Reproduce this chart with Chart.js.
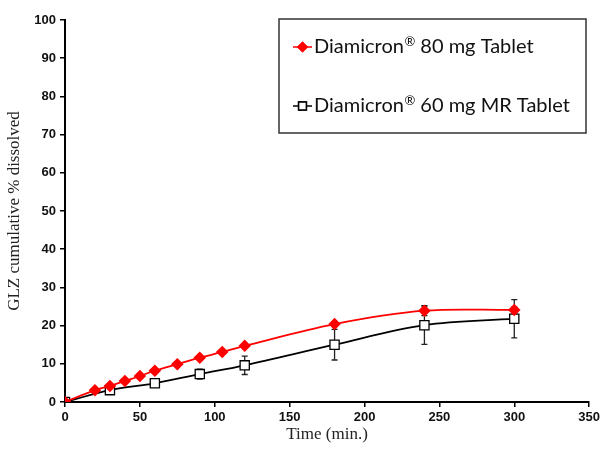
<!DOCTYPE html>
<html>
<head>
<meta charset="utf-8">
<script src="https://cdn.jsdelivr.net/npm/chart.js@4.4.0/dist/chart.umd.min.js"></script>
<style>
  html, body { margin: 0; padding: 0; background: #fff; }
  #wrap { width: 603px; height: 449px; position: relative; }
</style>
</head>
<body>
<div id="wrap"><canvas id="myChart" width="603" height="449"></canvas></div>
<script>
// dissolution data
var time80 = [0, 20, 30, 40, 50, 60, 75, 90, 105, 120, 180, 240, 300];
var diss80 = [0, 3.1, 4.2, 5.5, 6.8, 8.2, 9.9, 11.6, 13.1, 14.7, 20.4, 23.9, 24.1];
var err80  = [0, 0.3, 0.3, 0.3, 0.3, 0.3, 0.3, 0.3, 0.3, 0.4, 0.6, 1.3, 0.8];

var time60 = [0, 30, 60, 90, 120, 180, 240, 300];
var diss60 = [0, 3.1, 4.9, 7.3, 9.6, 15.0, 20.1, 21.8];
var err60  = [0, 0.8, 1.0, 1.3, 2.4, 4.0, 5.0, 5.0];

var xTicks = [0, 50, 100, 150, 200, 250, 300, 350];
var yTicks = [0, 10, 20, 30, 40, 50, 60, 70, 80, 90, 100];

var labels = ["Diamicron\u00AE 80 mg Tablet", "Diamicron\u00AE 60 mg MR Tablet"];

function toPoints(xs, ys) {
  return xs.map(function(x, i) { return { x: x, y: ys[i] }; });
}

// error bars drawn through the chart's own scales
var errorBars = {
  id: "errorBars",
  beforeDatasetsDraw: function(chart) {
    var ctx = chart.ctx;
    var xs = chart.scales.x, ys = chart.scales.y;
    ctx.save();
    ctx.strokeStyle = "#222";
    ctx.lineWidth = 1.3;
    chart.data.datasets.forEach(function(ds) {
      if (!ds.errors) return;
      ds.data.forEach(function(p, i) {
        var e = ds.errors[i];
        if (!e) return;
        var px = xs.getPixelForValue(p.x);
        var top = ys.getPixelForValue(p.y + e);
        var bot = ys.getPixelForValue(p.y - e);
        ctx.beginPath();
        ctx.moveTo(px, top); ctx.lineTo(px, bot);
        ctx.moveTo(px - 3, top); ctx.lineTo(px + 3, top);
        ctx.moveTo(px - 3, bot); ctx.lineTo(px + 3, bot);
        ctx.stroke();
      });
    });
    ctx.restore();
  }
};

// label text with the ® raised as a superscript
function drawLabel(ctx, text, x, y) {
  var parts = text.split("\u00AE");
  ctx.font = "20px Lato";
  ctx.fillText(parts[0], x, y);
  x += ctx.measureText(parts[0]).width + 0.5;
  if (parts.length > 1) {
    ctx.font = "13px Lato";
    ctx.fillText("\u00AE", x, y - 5);
    x += ctx.measureText("\u00AE").width;
    ctx.font = "20px Lato";
    ctx.fillText(parts[1], x, y);
  }
}

// boxed legend in the upper right corner
var boxLegend = {
  id: "boxLegend",
  afterDraw: function(chart) {
    var ctx = chart.ctx;
    var left = 279, top = 19, right = 586, bottom = 133;
    ctx.save();
    ctx.strokeStyle = "#333";
    ctx.lineWidth = 1.5;
    ctx.strokeRect(left, top, right - left, bottom - top);
    var rows = [47, 106];
    chart.data.datasets.forEach(function(ds, i) {
      var y = rows[i];
      ctx.strokeStyle = ds.borderColor;
      ctx.lineWidth = 1.5;
      ctx.beginPath();
      ctx.moveTo(293, y); ctx.lineTo(312, y);
      ctx.stroke();
      Chart.helpers.drawPoint(ctx, {
        pointStyle: ds.pointStyle, radius: ds.legendRadius, borderWidth: 1.3
      }, 302.5, y);
      ctx.fillStyle = ds.pointBackgroundColor;
      ctx.fill();
      ctx.strokeStyle = ds.pointBorderColor;
      ctx.stroke();
      ctx.fillStyle = "#111";
      ctx.textBaseline = "middle";
      drawLabel(ctx, ds.label, 314, y);
    });
    ctx.restore();
  }
};

var ctx = document.getElementById("myChart");

var chart = new Chart(ctx, {
  type: "line",
  data: {
    datasets: [
      {
        label: labels[0],
        data: toPoints(time80, diss80),
        errors: err80,
        borderColor: "#ff0000",
        backgroundColor: "#ff0000",
        pointBackgroundColor: "#ff0000",
        pointBorderColor: "#ff0000",
        pointStyle: "rectRot",
        pointRadius: 5,
        legendRadius: 4.5,
        borderWidth: 1.8,
        tension: 0.35,
        fill: false
      },
      {
        label: labels[1],
        data: toPoints(time60, diss60),
        errors: err60,
        borderColor: "#000000",
        backgroundColor: "#000000",
        pointBackgroundColor: "#fff",
        pointBorderColor: "#000000",
        pointStyle: "rect",
        pointRadius: 6.5,
        legendRadius: 5.5,
        pointBorderWidth: 1.3,
        borderWidth: 1.8,
        tension: 0.35,
        fill: false
      }
    ]
  },
  options: {
    responsive: false,
    animation: false,
    layout: { padding: { top: 20, right: 12, left: 0, bottom: 0 } },
    plugins: {
      legend: { display: false },
      tooltip: { enabled: false }
    },
    scales: {
      x: {
        type: "linear",
        min: 0, max: 350,
        afterBuildTicks: function(s) { s.ticks = xTicks.map(function(v) { return { value: v }; }); },
        afterFit: function(s) { s.height = 47; },
        grid: { drawOnChartArea: false, drawTicks: true, tickLength: 5, color: "#000", lineWidth: 1.5 },
        border: { display: true, color: "#000", width: 2 },
        ticks: { color: "#111", font: { family: "Liberation Sans", weight: "bold", size: 13 }, padding: 3, maxRotation: 0 },
        title: { display: true, text: "Time (min.)", color: "#222", font: { family: "Liberation Serif", size: 17 }, padding: { top: 3 } }
      },
      y: {
        min: 0, max: 100,
        afterBuildTicks: function(s) { s.ticks = yTicks.map(function(v) { return { value: v }; }); },
        afterFit: function(s) { s.width = 65; },
        grid: { drawOnChartArea: false, drawTicks: true, tickLength: 5, color: "#000", lineWidth: 1.5 },
        border: { display: true, color: "#000", width: 2 },
        ticks: { color: "#111", font: { family: "Liberation Sans", weight: "bold", size: 13 }, padding: 4 },
        title: { display: true, text: "GLZ cumulative % dissolved", color: "#222", font: { family: "Liberation Serif", size: 17 }, padding: { bottom: 2 } }
      }
    }
  },
  plugins: [errorBars, boxLegend]
});
</script>
</body>
</html>
